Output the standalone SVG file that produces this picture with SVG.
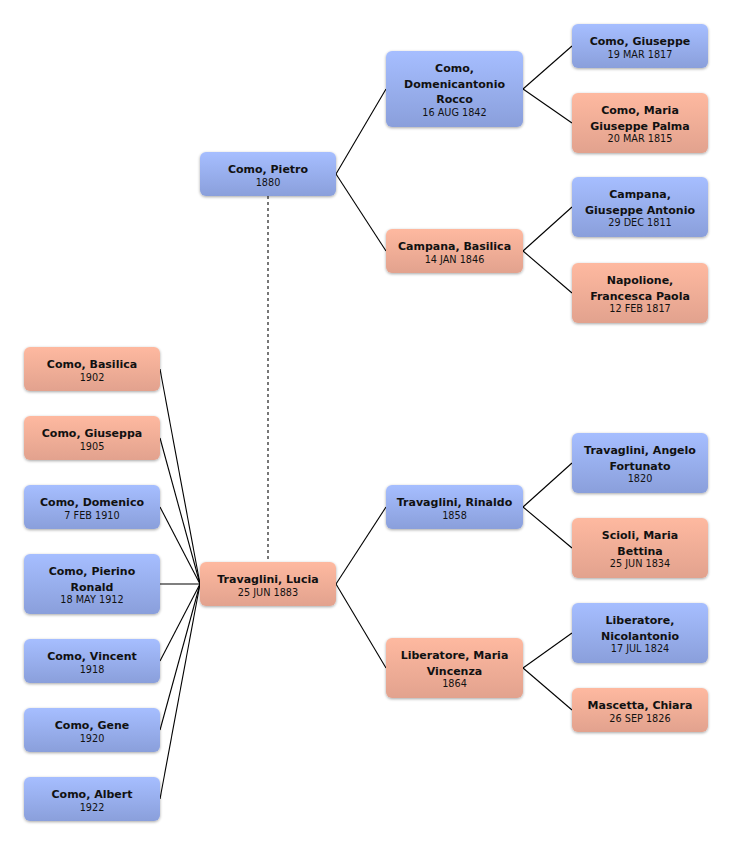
<svg xmlns="http://www.w3.org/2000/svg" width="732" height="846" viewBox="0 0 732 846">
<defs>
<linearGradient id="gBlue" x1="0" y1="0" x2="0" y2="1">
<stop offset="0" stop-color="#a6beff"/>
<stop offset="1" stop-color="#8a9fdb"/>
</linearGradient>
<linearGradient id="gPink" x1="0" y1="0" x2="0" y2="1">
<stop offset="0" stop-color="#feb9a0"/>
<stop offset="1" stop-color="#e2a28e"/>
</linearGradient>
<filter id="sh" x="-20%" y="-30%" width="140%" height="160%">
<feGaussianBlur in="SourceAlpha" stdDeviation="1.8"/>
<feOffset dx="0" dy="1" result="b"/>
<feComponentTransfer><feFuncA type="linear" slope="0.35"/></feComponentTransfer>
<feMerge><feMergeNode/><feMergeNode in="SourceGraphic"/></feMerge>
</filter>
</defs>
<style>
.blue{fill:url(#gBlue);filter:url(#sh)}
.pink{fill:url(#gPink);filter:url(#sh)}
.n{font-family:"DejaVu Sans","Liberation Sans",sans-serif;font-weight:bold;font-size:11px;fill:#111;text-anchor:middle}
.d{font-family:"DejaVu Sans","Liberation Sans",sans-serif;font-size:9.7px;fill:#111;text-anchor:middle}
.c{stroke:#000;stroke-width:1.1;fill:none}
.dot{stroke:#777;stroke-width:2;stroke-dasharray:3 3;fill:none}
</style>
<rect width="732" height="846" fill="#fff"/>
<g id="connectors">
<line class="dot" x1="268" y1="196" x2="268" y2="562"/>
<line class="c" x1="336" y1="174" x2="386" y2="89"/>
<line class="c" x1="336" y1="174" x2="386" y2="251"/>
<line class="c" x1="336" y1="584" x2="386" y2="507"/>
<line class="c" x1="336" y1="584" x2="386" y2="668"/>
<line class="c" x1="523" y1="89" x2="572" y2="46"/>
<line class="c" x1="523" y1="89" x2="572" y2="123"/>
<line class="c" x1="523" y1="251" x2="572" y2="207"/>
<line class="c" x1="523" y1="251" x2="572" y2="293"/>
<line class="c" x1="523" y1="507" x2="572" y2="463"/>
<line class="c" x1="523" y1="507" x2="572" y2="548"/>
<line class="c" x1="523" y1="668" x2="572" y2="633"/>
<line class="c" x1="523" y1="668" x2="572" y2="710"/>
<line class="c" x1="160" y1="369" x2="200" y2="584"/>
<line class="c" x1="160" y1="438" x2="200" y2="584"/>
<line class="c" x1="160" y1="507" x2="200" y2="584"/>
<line class="c" x1="160" y1="584" x2="200" y2="584"/>
<line class="c" x1="160" y1="661" x2="200" y2="584"/>
<line class="c" x1="160" y1="730" x2="200" y2="584"/>
<line class="c" x1="160" y1="799" x2="200" y2="584"/>
</g>
<g id="n-basilica"><rect class="pink" x="24" y="347" width="136" height="44" rx="6"/><text class="n" x="92" y="368">Como, Basilica</text><text class="d" x="92" y="380.5">1902</text></g>
<g id="n-giuseppa"><rect class="pink" x="24" y="416" width="136" height="44" rx="6"/><text class="n" x="92" y="437">Como, Giuseppa</text><text class="d" x="92" y="449.5">1905</text></g>
<g id="n-domenico"><rect class="blue" x="24" y="485" width="136" height="44" rx="6"/><text class="n" x="92" y="506">Como, Domenico</text><text class="d" x="92" y="518.5">7 FEB 1910</text></g>
<g id="n-pierino"><rect class="blue" x="24" y="554" width="136" height="60" rx="6"/><text class="n" x="92" y="575">Como, Pierino</text><text class="n" x="92" y="590.5">Ronald</text><text class="d" x="92" y="603">18 MAY 1912</text></g>
<g id="n-vincent"><rect class="blue" x="24" y="639" width="136" height="44" rx="6"/><text class="n" x="92" y="660">Como, Vincent</text><text class="d" x="92" y="672.5">1918</text></g>
<g id="n-gene"><rect class="blue" x="24" y="708" width="136" height="44" rx="6"/><text class="n" x="92" y="729">Como, Gene</text><text class="d" x="92" y="741.5">1920</text></g>
<g id="n-albert"><rect class="blue" x="24" y="777" width="136" height="44" rx="6"/><text class="n" x="92" y="798">Como, Albert</text><text class="d" x="92" y="810.5">1922</text></g>
<g id="n-pietro"><rect class="blue" x="200" y="152" width="136" height="44" rx="6"/><text class="n" x="268" y="173">Como, Pietro</text><text class="d" x="268" y="185.5">1880</text></g>
<g id="n-lucia"><rect class="pink" x="200" y="562" width="136" height="44" rx="6"/><text class="n" x="268" y="583">Travaglini, Lucia</text><text class="d" x="268" y="595.5">25 JUN 1883</text></g>
<g id="n-domenicantonio"><rect class="blue" x="386" y="51" width="137" height="76" rx="6"/><text class="n" x="454.5" y="72">Como,</text><text class="n" x="454.5" y="87.5">Domenicantonio</text><text class="n" x="454.5" y="103">Rocco</text><text class="d" x="454.5" y="115.5">16 AUG 1842</text></g>
<g id="n-campana-basilica"><rect class="pink" x="386" y="229" width="137" height="44" rx="6"/><text class="n" x="454.5" y="250">Campana, Basilica</text><text class="d" x="454.5" y="262.5">14 JAN 1846</text></g>
<g id="n-rinaldo"><rect class="blue" x="386" y="485" width="137" height="44" rx="6"/><text class="n" x="454.5" y="506">Travaglini, Rinaldo</text><text class="d" x="454.5" y="518.5">1858</text></g>
<g id="n-maria-vincenza"><rect class="pink" x="386" y="638" width="137" height="60" rx="6"/><text class="n" x="454.5" y="659">Liberatore, Maria</text><text class="n" x="454.5" y="674.5">Vincenza</text><text class="d" x="454.5" y="687">1864</text></g>
<g id="n-como-giuseppe"><rect class="blue" x="572" y="24" width="136" height="44" rx="6"/><text class="n" x="640" y="45">Como, Giuseppe</text><text class="d" x="640" y="57.5">19 MAR 1817</text></g>
<g id="n-maria-giuseppe-palma"><rect class="pink" x="572" y="93" width="136" height="60" rx="6"/><text class="n" x="640" y="114">Como, Maria</text><text class="n" x="640" y="129.5">Giuseppe Palma</text><text class="d" x="640" y="142">20 MAR 1815</text></g>
<g id="n-campana-giuseppe"><rect class="blue" x="572" y="177" width="136" height="60" rx="6"/><text class="n" x="640" y="198">Campana,</text><text class="n" x="640" y="213.5">Giuseppe Antonio</text><text class="d" x="640" y="226">29 DEC 1811</text></g>
<g id="n-napolione"><rect class="pink" x="572" y="263" width="136" height="60" rx="6"/><text class="n" x="640" y="284">Napolione,</text><text class="n" x="640" y="299.5">Francesca Paola</text><text class="d" x="640" y="312">12 FEB 1817</text></g>
<g id="n-angelo"><rect class="blue" x="572" y="433" width="136" height="60" rx="6"/><text class="n" x="640" y="454">Travaglini, Angelo</text><text class="n" x="640" y="469.5">Fortunato</text><text class="d" x="640" y="482">1820</text></g>
<g id="n-scioli"><rect class="pink" x="572" y="518" width="136" height="60" rx="6"/><text class="n" x="640" y="539">Scioli, Maria</text><text class="n" x="640" y="554.5">Bettina</text><text class="d" x="640" y="567">25 JUN 1834</text></g>
<g id="n-nicolantonio"><rect class="blue" x="572" y="603" width="136" height="60" rx="6"/><text class="n" x="640" y="624">Liberatore,</text><text class="n" x="640" y="639.5">Nicolantonio</text><text class="d" x="640" y="652">17 JUL 1824</text></g>
<g id="n-mascetta"><rect class="pink" x="572" y="688" width="136" height="44" rx="6"/><text class="n" x="640" y="709">Mascetta, Chiara</text><text class="d" x="640" y="721.5">26 SEP 1826</text></g>
</svg>
